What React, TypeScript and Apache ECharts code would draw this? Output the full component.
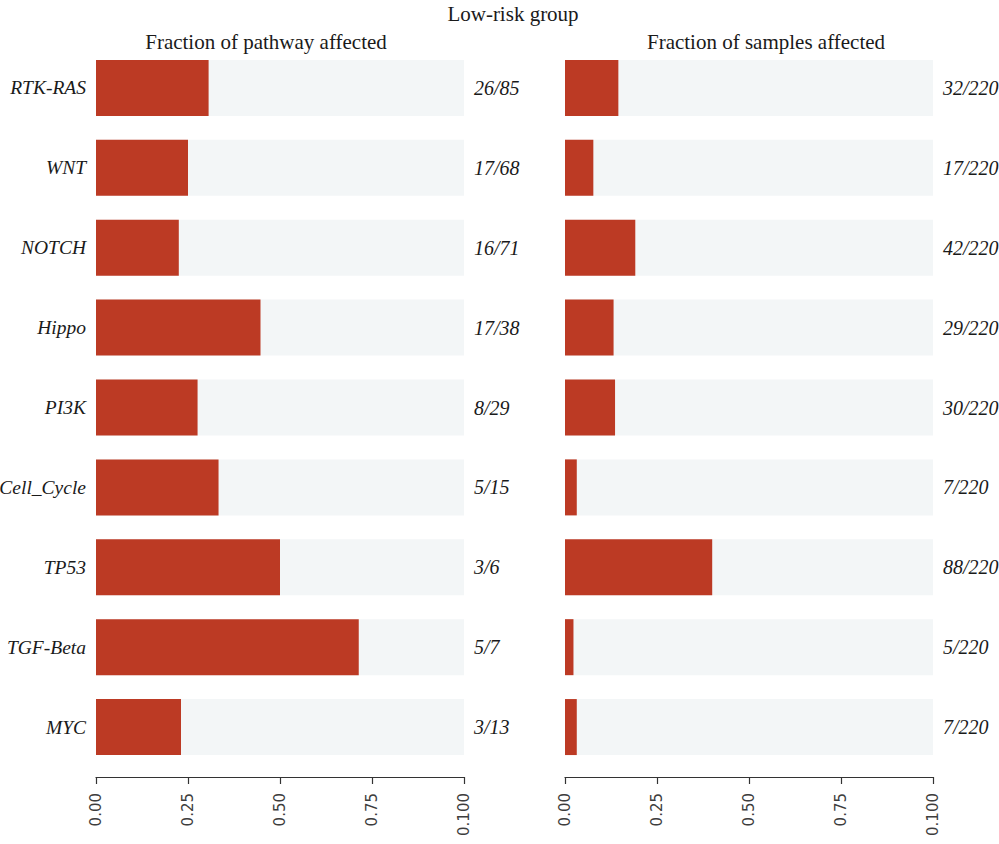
import React, { useEffect, useRef } from "react";
import * as echarts from "echarts";

const pathways = ["RTK-RAS", "WNT", "NOTCH", "Hippo", "PI3K", "Cell_Cycle", "TP53", "TGF-Beta", "MYC"];
const pathwayFraction = [0.306, 0.25, 0.225, 0.447, 0.276, 0.333, 0.5, 0.714, 0.231];
const pathwayLabels = ["26/85", "17/68", "16/71", "17/38", "8/29", "5/15", "3/6", "5/7", "3/13"];
const sampleFraction = [0.145, 0.077, 0.191, 0.132, 0.136, 0.032, 0.4, 0.023, 0.032];
const sampleLabels = ["32/220", "17/220", "42/220", "29/220", "30/220", "7/220", "88/220", "5/220", "7/220"];
const tickLabels = ["0.00", "0.25", "0.50", "0.75", "0.100"];

const RED = "#BC3A24";
const BG = "#F3F6F7";
const SERIF = "'Liberation Serif', 'Times New Roman', serif";
const TEXT = "#1a1a1a";

export default function App() {
  const ref = useRef<HTMLDivElement>(null);
  useEffect(() => {
    document.body.style.margin = "0";
    const chart = echarts.init(ref.current!, null, { renderer: "svg" });
    const gridTop = 48;
    const gridH = 719;
    const grids = [
      { left: 96, top: gridTop, width: 368, height: gridH, containLabel: false, outerBoundsMode: "none" },
      { left: 565, top: gridTop, width: 368, height: gridH, containLabel: false, outerBoundsMode: "none" },
    ];
    const xAxis = [0, 1].map((i) => ({
      type: "value",
      gridIndex: i,
      min: 0,
      max: 1,
      interval: 0.25,
      offset: 10,
      splitLine: { show: false },
      axisLine: { show: true, lineStyle: { color: "#333", width: 1.2 } },
      axisTick: { show: true, length: 7, lineStyle: { color: "#333", width: 1.2 } },
      axisLabel: {
        rotate: 90,
        margin: 16,
        fontFamily: "'DejaVu Sans', sans-serif",
        fontSize: 15,
        color: "#3d3d3d",
        formatter: (v: number) => tickLabels[Math.round(v / 0.25)] ?? "",
      },
    }));
    const catLabelStyle = {
      fontFamily: SERIF,
      fontStyle: "italic",
      fontSize: 19.5,
      color: TEXT,
    };
    const fracLabelStyle = { ...catLabelStyle, fontSize: 20 };
    const yAxis: any[] = [
      {
        type: "category",
        gridIndex: 0,
        data: pathways,
        inverse: true,
        axisLine: { show: false },
        axisTick: { show: false },
        axisLabel: { ...catLabelStyle, margin: 10 },
      },
      {
        type: "category",
        gridIndex: 0,
        position: "right",
        data: pathwayLabels,
        inverse: true,
        axisLine: { show: false },
        axisTick: { show: false },
        axisLabel: { ...fracLabelStyle, margin: 10 },
      },
      {
        type: "category",
        gridIndex: 1,
        data: pathways,
        inverse: true,
        axisLine: { show: false },
        axisTick: { show: false },
        axisLabel: { show: false },
      },
      {
        type: "category",
        gridIndex: 1,
        position: "right",
        data: sampleLabels,
        inverse: true,
        axisLine: { show: false },
        axisTick: { show: false },
        axisLabel: { ...fracLabelStyle, margin: 10 },
      },
    ];
    const barCommon = {
      type: "bar",
      barWidth: 56,
      showBackground: true,
      backgroundStyle: { color: BG },
      itemStyle: { color: RED },
    };
    const titleStyle = { align: "center", verticalAlign: "middle", fontFamily: SERIF, fontSize: 21, fill: TEXT };
    chart.setOption({
      animation: false,
      grid: grids,
      xAxis,
      yAxis,
      series: [
        { ...barCommon, xAxisIndex: 0, yAxisIndex: 0, data: pathwayFraction },
        { ...barCommon, xAxisIndex: 1, yAxisIndex: 2, data: sampleFraction },
      ],
      graphic: [
        { type: "text", x: 513, y: 14, style: { ...titleStyle, text: "Low-risk group" } },
        { type: "text", x: 266, y: 42, style: { ...titleStyle, text: "Fraction of pathway affected" } },
        { type: "text", x: 766, y: 42, style: { ...titleStyle, text: "Fraction of samples affected" } },
      ],
    } as any);
    return () => chart.dispose();
  }, []);
  return <div ref={ref} style={{ width: 999, height: 844 }} />;
}
